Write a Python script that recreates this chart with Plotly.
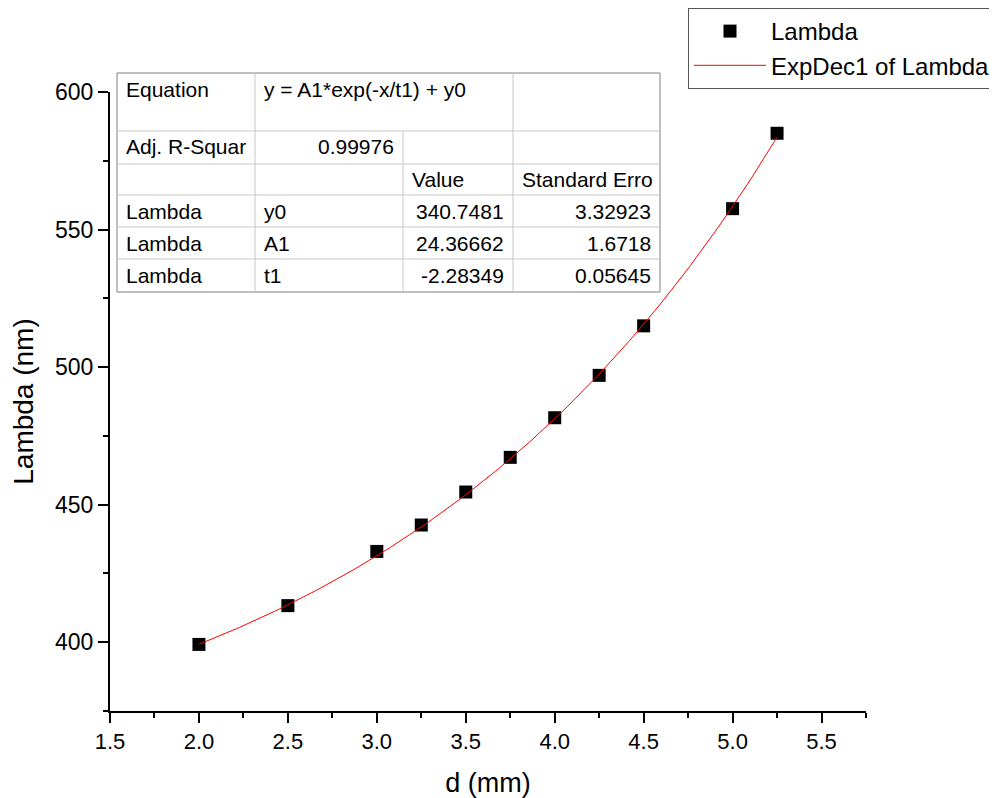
import numpy as np
import plotly.graph_objects as go

# ---- data ----
d_mm = [2.0, 2.5, 3.0, 3.25, 3.5, 3.75, 4.0, 4.25, 4.5, 5.0, 5.25]
lambda_nm = [399.2, 413.3, 433.0, 442.6, 454.6, 467.2, 481.6, 497.0, 515.0, 557.6, 585.0]

fit_y0 = 340.7481
fit_A1 = 24.36662
fit_t1 = -2.28349
adj_r2 = "0.99976"

param_names = ["y0", "A1", "t1"]
param_values = ["340.7481", "24.36662", "-2.28349"]
param_errors = ["3.32923", "1.6718", "0.05645"]

x_ticks = [1.5, 2.0, 2.5, 3.0, 3.5, 4.0, 4.5, 5.0, 5.5]
y_ticks = [400, 450, 500, 550, 600]

# fitted curve from displayed parameters
x_fit = np.linspace(min(d_mm), max(d_mm), 200)
y_fit = fit_A1 * np.exp(-x_fit / fit_t1) + fit_y0

FONT = "Arial, Liberation Sans, sans-serif"

# page offset (body margin) and plot area in viewport pixels
OFF = 8
VW, VH = 997, 798
L, R, T, B = 110, 866, 92, 711
W, H = VW - OFF, VH - OFF


def px(x):
    return (x - L) / (R - L)


def py(y):
    return (B - y) / (B - T)


fig = go.Figure()
fig.add_trace(go.Scatter(
    x=d_mm, y=lambda_nm, mode="markers", name="Lambda",
    marker=dict(symbol="square", size=13, color="black"),
))
fig.add_trace(go.Scatter(
    x=x_fit, y=y_fit, mode="lines", name="ExpDec1 of Lambda",
    line=dict(color="red", width=1),
))

# ---- fit table ----
cols = [117, 255, 403, 513, 660]
rows = [73, 131, 164, 195, 227, 259, 292]
shapes = []
inner = "#c8c8c8"
outer = "#808080"
shapes.append(dict(type="rect", xref="paper", yref="paper",
                   x0=px(cols[0]), x1=px(cols[-1]), y0=py(rows[0]), y1=py(rows[-1]),
                   line=dict(color=outer, width=1), fillcolor="white", layer="above"))
for r in rows[1:-1]:
    shapes.append(dict(type="line", xref="paper", yref="paper",
                       x0=px(cols[0]), x1=px(cols[-1]), y0=py(r), y1=py(r),
                       line=dict(color=inner, width=1), layer="above"))
for c in [cols[1], cols[3]]:
    shapes.append(dict(type="line", xref="paper", yref="paper",
                       x0=px(c), x1=px(c), y0=py(rows[0]), y1=py(rows[-1]),
                       line=dict(color=inner, width=1), layer="above"))
shapes.append(dict(type="line", xref="paper", yref="paper",
                   x0=px(cols[2]), x1=px(cols[2]), y0=py(rows[1]), y1=py(rows[-1]),
                   line=dict(color=inner, width=1), layer="above"))

annotations = []
PAD = 7
TFS = 21


def cell(text, col, row, align="left"):
    if align == "left":
        x = px(cols[col] + PAD)
        xa = "left"
    else:
        x = px(cols[col + 1] - PAD)
        xa = "right"
    y = py(rows[row] + 16)
    annotations.append(dict(text=text, x=x, y=y, xref="paper", yref="paper",
                            xanchor=xa, yanchor="middle", showarrow=False,
                            font=dict(family=FONT, size=TFS, color="black")))


cell("Equation", 0, 0)
cell("y = A1*exp(-x/t1) + y0", 1, 0)
cell("Adj. R-Squar", 0, 1)
cell(adj_r2, 1, 1, "right")
cell("Value", 2, 2)
cell("Standard Erro", 3, 2)
for i in range(3):
    cell("Lambda", 0, 3 + i)
    cell(param_names[i], 1, 3 + i)
    cell(param_values[i], 2, 3 + i, "right")
    cell(param_errors[i], 3, 3 + i, "right")

fig.update_layout(
    width=W, height=H,
    margin=dict(l=L - OFF, r=VW - R, t=T - OFF, b=VH - B, autoexpand=False),
    paper_bgcolor="white", plot_bgcolor="white",
    font=dict(family=FONT, color="black"),
    shapes=shapes, annotations=annotations,
    legend=dict(
        xref="container", yref="container",
        x=(688 - OFF) / W, y=1.0, xanchor="left", yanchor="top",
        bordercolor="#555555", borderwidth=1, bgcolor="white",
        font=dict(family=FONT, size=24, color="black"),
        itemwidth=72, tracegroupgap=0,
    ),
    showlegend=True,
)
fig.update_xaxes(
    range=[1.5, 5.75], tickvals=x_ticks, ticktext=[f"{v:.1f}" for v in x_ticks],
    showgrid=False, zeroline=False, showline=True, linecolor="black", linewidth=2,
    ticks="outside", ticklen=10, tickwidth=2, tickcolor="black",
    minor=dict(ticks="outside", ticklen=5, tickwidth=2, tickcolor="black", dtick=0.25, tick0=1.5, showgrid=False),
    tickfont=dict(family=FONT, size=22),
    title=dict(text="d (mm)", font=dict(family=FONT, size=27), standoff=22),
)
fig.update_yaxes(
    range=[375, 600], tickvals=y_ticks,
    showgrid=False, zeroline=False, showline=True, linecolor="black", linewidth=2,
    ticks="outside", ticklen=10, tickwidth=2, tickcolor="black",
    minor=dict(ticks="outside", ticklen=5, tickwidth=2, tickcolor="black", dtick=25, tick0=375, showgrid=False),
    tickfont=dict(family=FONT, size=23),
    title=dict(text="Lambda (nm)", font=dict(family=FONT, size=28), standoff=14),
)

fig.write_html("out.html")
